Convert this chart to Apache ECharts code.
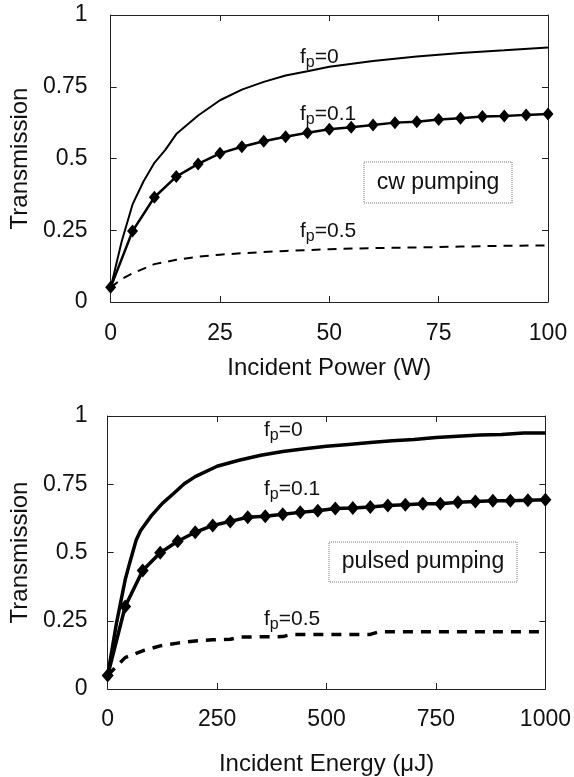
<!DOCTYPE html>
<html><head><meta charset="utf-8">
<script src="https://cdn.jsdelivr.net/npm/echarts@6/dist/echarts.min.js"></script>
<style>html,body{margin:0;padding:0;background:#fff}#c{width:574px;height:777px}</style>
</head><body><div id="c"></div>
<script>
// ---- top panel (cw pumping) ----
var powerFp0 = [0, 2.5, 5, 7.5, 10, 12.5, 15, 20, 25, 30, 35, 40, 45, 50, 60, 70, 80, 90, 100];
var transFp0Cw = [0.05, 0.21, 0.34, 0.42, 0.485, 0.53, 0.585, 0.65, 0.703, 0.74, 0.767, 0.789, 0.804, 0.82, 0.84, 0.855, 0.868, 0.877, 0.887];
var powerFp01 = [0, 5, 10, 15, 20, 25, 30, 35, 40, 45, 50, 55, 60, 65, 70, 75, 80, 85, 90, 95, 100];
var transFp01Cw = [0.051, 0.247, 0.365, 0.437, 0.481, 0.518, 0.541, 0.560, 0.576, 0.590, 0.602, 0.609, 0.617, 0.625, 0.628, 0.636, 0.640, 0.646, 0.648, 0.652, 0.655];
var powerFp05 = [0, 2.5, 5, 10, 15, 20, 25, 30, 40, 50, 60, 70, 80, 90, 100];
var transFp05Cw = [0.05, 0.08, 0.1, 0.132, 0.147, 0.158, 0.165, 0.17, 0.178, 0.184, 0.188, 0.19, 0.193, 0.196, 0.197];
// ---- bottom panel (pulsed pumping) ----
var energyFp0 = [0, 20, 40, 50, 65, 75, 100, 125, 150, 175, 200, 250, 300, 350, 400, 450, 500, 550, 600, 650, 700, 750, 800, 850, 900, 950, 1000];
var transFp0Pulsed = [0.05, 0.24, 0.40, 0.46, 0.545, 0.58, 0.635, 0.68, 0.715, 0.752, 0.778, 0.816, 0.838, 0.856, 0.87, 0.88, 0.889, 0.896, 0.903, 0.909, 0.914, 0.921, 0.926, 0.93, 0.932, 0.938, 0.938];
var energyFp01 = [0, 40, 80, 120, 160, 200, 240, 280, 320, 360, 400, 440, 480, 520, 560, 600, 640, 680, 720, 760, 800, 840, 880, 920, 960, 1000];
var transFp01Pulsed = [0.049, 0.302, 0.434, 0.499, 0.541, 0.574, 0.599, 0.614, 0.629, 0.633, 0.640, 0.647, 0.653, 0.661, 0.663, 0.667, 0.672, 0.675, 0.679, 0.679, 0.684, 0.687, 0.690, 0.690, 0.691, 0.693];
var energyFp05 = [0, 40, 80, 120, 160, 200, 240, 280, 300, 400, 420, 600, 620, 1000];
var transFp05Pulsed = [0.05, 0.115, 0.14, 0.158, 0.168, 0.176, 0.18, 0.182, 0.19, 0.192, 0.2, 0.2, 0.21, 0.21];
// ---- axes / text ----
var yTicks = [0, 0.25, 0.5, 0.75, 1];
var powerTicks = [0, 25, 50, 75, 100];
var energyTicks = [0, 250, 500, 750, 1000];
var yName = 'Transmission';
var xNameTop = 'Incident Power (W)';
var xNameBottom = 'Incident Energy (\u03BCJ)';
var curveLabels = ['=0', '=0.1', '=0.5'];
var boxTexts = ['cw pumping', 'pulsed pumping'];

function pairs(xs, ys) { return xs.map(function (x, i) { return [x, ys[i]]; }); }

var FONT = "'Liberation Sans', Arial, Helvetica, sans-serif";
var AX = '#222';
var chart = echarts.init(document.getElementById('c'), null, { renderer: 'canvas' });

function xAx(grid, max, interval, pos, name, showLabel, nameGap, margin) {
  return {
    type: 'value', gridIndex: grid, min: 0, max: max, interval: interval, position: pos,
    name: showLabel ? name : '', nameLocation: 'middle', nameGap: nameGap,
    nameTextStyle: { fontFamily: FONT, fontSize: 24, color: '#111' },
    axisLine: { show: true, onZero: false, lineStyle: { color: AX, width: 1 } },
    axisTick: { show: true, inside: true, length: 6, lineStyle: { color: AX } },
    axisLabel: { show: showLabel, margin: margin, fontFamily: FONT, fontSize: 23, color: '#111',
      formatter: function (v) { return String(v); } },
    splitLine: { show: false }
  };
}
function yAx(grid, pos, showLabel, nameGap, margin) {
  return {
    type: 'value', gridIndex: grid, min: 0, max: 1, interval: 0.25, position: pos,
    name: showLabel ? yName : '', nameLocation: 'middle', nameGap: nameGap,
    nameTextStyle: { fontFamily: FONT, fontSize: 24, color: '#111' },
    axisLine: { show: true, onZero: false, lineStyle: { color: AX, width: 1 } },
    axisTick: { show: true, inside: true, length: 6, lineStyle: { color: AX } },
    axisLabel: { show: showLabel, margin: margin, fontFamily: FONT, fontSize: 23, color: '#111',
      formatter: function (v) { return String(v); } },
    splitLine: { show: false }
  };
}

function line(xi, yi, data, width, dashed, marker, msize) {
  return {
    type: 'line', xAxisIndex: xi, yAxisIndex: yi, data: data,
    showSymbol: !!marker, symbol: marker ? 'diamond' : 'none', symbolSize: msize,
    itemStyle: { color: '#000' },
    lineStyle: { color: '#000', width: width, type: dashed ? dashed : 'solid' },
    animation: false, z: marker ? 3 : 2
  };
}

function curveLabel(x, baseline, suffix, fs) {
  var sfs = 16;
  var fw = 0.278 * fs, pw = 0.556 * sfs;
  return {
    type: 'group', children: [
      { type: 'text', x: x, y: baseline - 0.35 * fs, style: { text: 'f', font: fs + 'px ' + FONT, fill: '#111', verticalAlign: 'middle' } },
      { type: 'text', x: x + fw, y: baseline + 3.5 - 0.35 * sfs, style: { text: 'p', font: sfs + 'px ' + FONT, fill: '#111', verticalAlign: 'middle' } },
      { type: 'text', x: x + fw + pw, y: baseline - 0.35 * fs, style: { text: suffix, font: fs + 'px ' + FONT, fill: '#111', verticalAlign: 'middle' } }
    ]
  };
}
function box(x, y, w, h, text) {
  return {
    type: 'group', children: [
      { type: 'rect', shape: { x: x, y: y, width: w, height: h }, style: { fill: '#fff', stroke: '#777', lineWidth: 1, lineDash: [1, 1] } },
      { type: 'text', x: x + w / 2, y: y + h / 2, style: { text: text, font: '23px ' + FONT, fill: '#111', align: 'center', verticalAlign: 'middle' } }
    ]
  };
}

var option = {
  backgroundColor: '#fff',
  animation: false,
  grid: [
    { left: 106, top: 15, width: 442, height: 287 },
    { left: 103, top: 416, width: 446, height: 274 }
  ],
  xAxis: [
    xAx(0, 100, 25, 'bottom', xNameTop, true, 54, 20),
    xAx(0, 100, 25, 'top', '', false, 0, 0),
    xAx(1, 1000, 250, 'bottom', xNameBottom, true, 63, 19),
    xAx(1, 1000, 250, 'top', '', false, 0, 0)
  ],
  yAxis: [
    yAx(0, 'left', true, 73, 23),
    yAx(0, 'right', false, 0, 0),
    yAx(1, 'left', true, 69, 20),
    yAx(1, 'right', false, 0, 0)
  ],
  series: [
    line(0, 0, pairs(powerFp0, transFp0Cw), 2, null, false),
    line(0, 0, pairs(powerFp01, transFp01Cw), 2.5, null, true, [11, 13]),
    line(0, 0, pairs(powerFp05, transFp05Cw), 2, [9, 7], false),
    line(2, 2, pairs(energyFp0, transFp0Pulsed), 3.5, null, false),
    line(2, 2, pairs(energyFp01, transFp01Pulsed), 3.5, null, true, [12, 14]),
    line(2, 2, pairs(energyFp05, transFp05Pulsed), 3.5, [10, 8], false)
  ],
  graphic: [
    curveLabel(300, 65, curveLabels[0], 21),
    curveLabel(300, 122, curveLabels[1], 21),
    curveLabel(300, 239, curveLabels[2], 21),
    curveLabel(264, 438, curveLabels[0], 21),
    curveLabel(264, 497, curveLabels[1], 21),
    curveLabel(264, 627, curveLabels[2], 21),
    box(364, 162, 148, 41, boxTexts[0]),
    box(329, 542, 188, 40, boxTexts[1])
  ]
};
chart.setOption(option);
</script></body></html>
